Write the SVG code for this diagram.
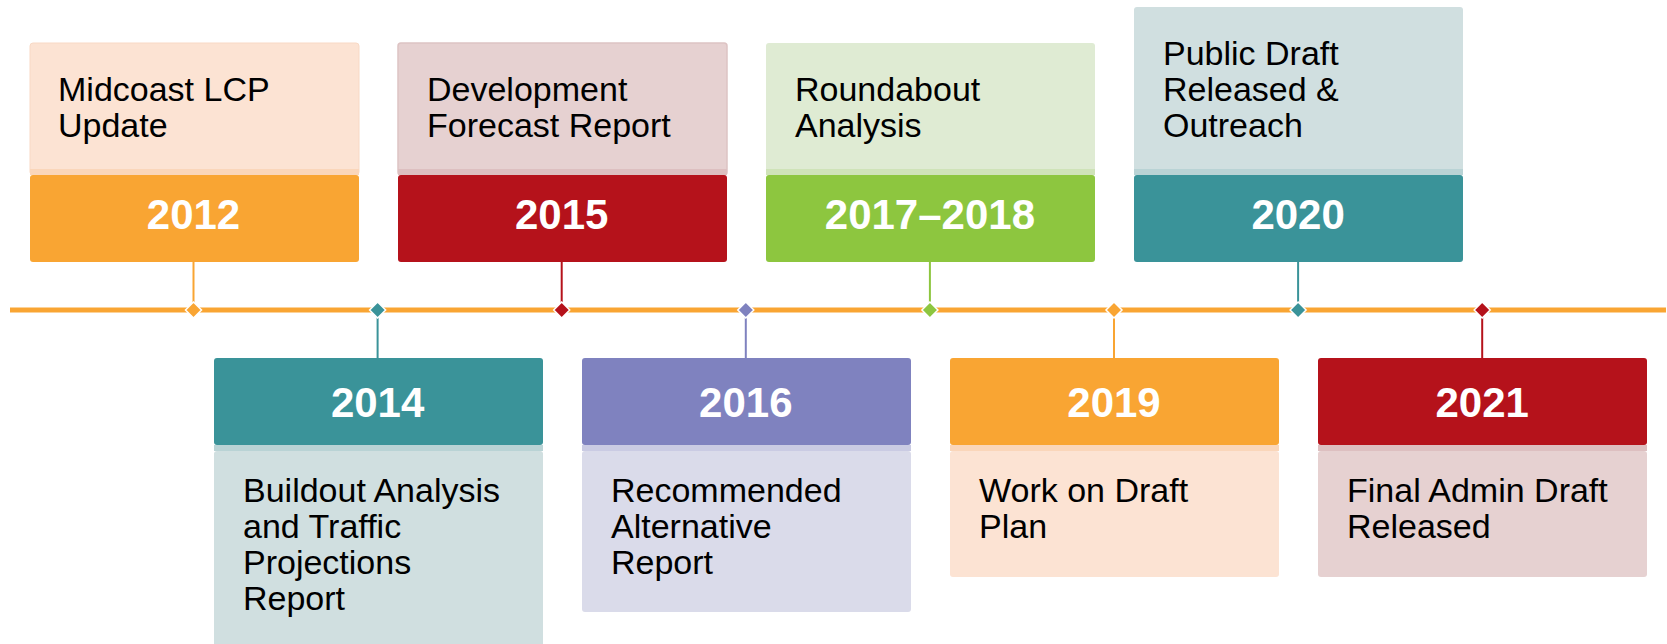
<svg xmlns="http://www.w3.org/2000/svg" width="1667" height="644" viewBox="0 0 1667 644">
<defs>
<style>
.lbl{font-family:"Liberation Sans",Arial,sans-serif;font-size:34px;fill:#000}
.yr{font-family:"Liberation Sans",Arial,sans-serif;font-size:42px;font-weight:bold;fill:#fff;text-anchor:middle}
.stem{stroke-width:2}
.dia{stroke:#fff;stroke-width:1.5}
</style>
<path id="d" d="M0,-8 L8,0 L0,8 L-8,0 Z"/>
</defs>
<rect width="1667" height="644" fill="#fff"/>
<g id="connectors">
<line x1="10" y1="310" x2="1666" y2="310" stroke="#F9A533" stroke-width="5"/>
<line class="stem" x1="193.5" y1="262" x2="193.5" y2="310" stroke="#F9A533"/>
<line class="stem" x1="377.6" y1="310" x2="377.6" y2="358" stroke="#3A9399"/>
<line class="stem" x1="561.7" y1="262" x2="561.7" y2="310" stroke="#B5121B"/>
<line class="stem" x1="745.8" y1="310" x2="745.8" y2="358" stroke="#7F82BF"/>
<line class="stem" x1="929.9" y1="262" x2="929.9" y2="310" stroke="#8DC63F"/>
<line class="stem" x1="1114" y1="310" x2="1114" y2="358" stroke="#F9A533"/>
<line class="stem" x1="1298.1" y1="262" x2="1298.1" y2="310" stroke="#3A9399"/>
<line class="stem" x1="1482.2" y1="310" x2="1482.2" y2="358" stroke="#B5121B"/>
<use href="#d" class="dia" x="193.5" y="310" fill="#F9A533"/>
<use href="#d" class="dia" x="377.6" y="310" fill="#3A9399"/>
<use href="#d" class="dia" x="561.7" y="310" fill="#B5121B"/>
<use href="#d" class="dia" x="745.8" y="310" fill="#7F82BF"/>
<use href="#d" class="dia" x="929.9" y="310" fill="#8DC63F"/>
<use href="#d" class="dia" x="1114" y="310" fill="#F9A533"/>
<use href="#d" class="dia" x="1298.1" y="310" fill="#3A9399"/>
<use href="#d" class="dia" x="1482.2" y="310" fill="#B5121B"/>
</g>
<g id="n2012">
<rect x="30" y="43" width="329" height="132" rx="3" fill="#FCE3D3" stroke="#F8D9C5" stroke-width="1"/>
<rect x="30" y="169" width="329" height="6" fill="#FAD6BA"/>
<rect x="30" y="175" width="329" height="87" rx="3" fill="#F9A533"/>
<text class="lbl" x="58" y="101">Midcoast LCP</text>
<text class="lbl" x="58" y="137">Update</text>
<text class="yr" x="193.5" y="229">2012</text>
</g>
<g id="n2014">
<rect x="214" y="358" width="329" height="87" rx="3" fill="#3A9399"/>
<rect x="214" y="445" width="329" height="6" fill="#B9D3D5"/>
<rect x="214" y="451" width="329" height="210" rx="3" fill="#D0DFE0"/>
<text class="yr" x="377.6" y="417">2014</text>
<text class="lbl" x="243" y="502">Buildout Analysis</text>
<text class="lbl" x="243" y="538">and Traffic</text>
<text class="lbl" x="243" y="574">Projections</text>
<text class="lbl" x="243" y="610">Report</text>
</g>
<g id="n2015">
<rect x="398" y="43" width="329" height="132" rx="3" fill="#E6D1D1" stroke="#DDC3C3" stroke-width="1.5"/>
<rect x="398" y="169" width="329" height="6" fill="#DDBFC0"/>
<rect x="398" y="175" width="329" height="87" rx="3" fill="#B5121B"/>
<text class="lbl" x="427" y="101">Development</text>
<text class="lbl" x="427" y="137">Forecast Report</text>
<text class="yr" x="561.7" y="229">2015</text>
</g>
<g id="n2016">
<rect x="582" y="358" width="329" height="87" rx="3" fill="#7F82BF"/>
<rect x="582" y="445" width="329" height="6" fill="#CACBE3"/>
<rect x="582" y="451" width="329" height="161" rx="3" fill="#DADBEA"/>
<text class="yr" x="745.8" y="417">2016</text>
<text class="lbl" x="611" y="502">Recommended</text>
<text class="lbl" x="611" y="538">Alternative</text>
<text class="lbl" x="611" y="574">Report</text>
</g>
<g id="n2017">
<rect x="766" y="43" width="329" height="132" rx="3" fill="#DFEBD3"/>
<rect x="766" y="169" width="329" height="6" fill="#CFE3B8"/>
<rect x="766" y="175" width="329" height="87" rx="3" fill="#8DC63F"/>
<text class="lbl" x="795" y="101">Roundabout</text>
<text class="lbl" x="795" y="137">Analysis</text>
<text class="yr" x="929.9" y="229">2017–2018</text>
</g>
<g id="n2019">
<rect x="950" y="358" width="329" height="87" rx="3" fill="#F9A533"/>
<rect x="950" y="445" width="329" height="6" fill="#FAD6BA"/>
<rect x="950" y="451" width="329" height="126" rx="3" fill="#FCE3D3"/>
<text class="yr" x="1114" y="417">2019</text>
<text class="lbl" x="979" y="502">Work on Draft</text>
<text class="lbl" x="979" y="538">Plan</text>
</g>
<g id="n2020">
<rect x="1134" y="7" width="329" height="168" rx="3" fill="#D0DFE0"/>
<rect x="1134" y="169" width="329" height="6" fill="#B9D3D5"/>
<rect x="1134" y="175" width="329" height="87" rx="3" fill="#3A9399"/>
<text class="lbl" x="1163" y="65">Public Draft</text>
<text class="lbl" x="1163" y="101">Released &amp;</text>
<text class="lbl" x="1163" y="137">Outreach</text>
<text class="yr" x="1298.1" y="229">2020</text>
</g>
<g id="n2021">
<rect x="1318" y="358" width="329" height="87" rx="3" fill="#B5121B"/>
<rect x="1318" y="445" width="329" height="6" fill="#DDBFC0"/>
<rect x="1318" y="451" width="329" height="126" rx="3" fill="#E6D1D1"/>
<text class="yr" x="1482.2" y="417">2021</text>
<text class="lbl" x="1347" y="502">Final Admin Draft</text>
<text class="lbl" x="1347" y="538">Released</text>
</g>
</svg>
